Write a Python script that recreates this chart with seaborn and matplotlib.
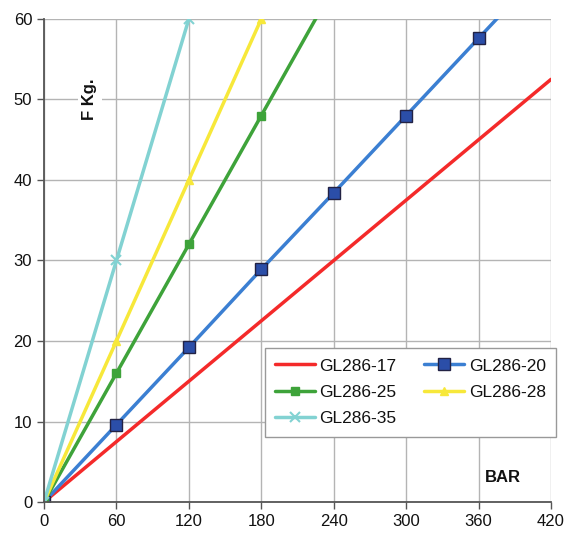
import pandas as pd
import matplotlib.pyplot as plt
import seaborn as sns

# pressure (BAR) values and force (Kg) per model
bar_17 = [0, 60, 120, 180, 240, 300, 360, 420]
kg_17 = [0, 7.5, 15, 22.5, 30, 37.5, 45, 52.5]

bar_20 = [0, 60, 120, 180, 240, 300, 360, 420]
kg_20 = [0, 9.6, 19.2, 28.9, 38.4, 48.0, 57.6, 67.2]

bar_25 = [0, 60, 120, 180, 240]
kg_25 = [0, 16, 32, 48, 64]

bar_28 = [0, 60, 120, 180]
kg_28 = [0, 20, 40, 60]

bar_35 = [0, 60, 120]
kg_35 = [0, 30, 60]

x_ticks = [0, 60, 120, 180, 240, 300, 360, 420]
y_ticks = [0, 10, 20, 30, 40, 50, 60]

series = [
    ('GL286-17', bar_17, kg_17, '#f42a2a', None, 0, '#f42a2a'),
    ('GL286-20', bar_20, kg_20, '#3b7fd2', 's', 8, '#2b4ea8'),
    ('GL286-25', bar_25, kg_25, '#3ea33a', 's', 6, '#3ea33a'),
    ('GL286-28', bar_28, kg_28, '#f7e83a', '^', 6, '#f7e83a'),
    ('GL286-35', bar_35, kg_35, '#82d2d2', 'x', 7, '#82d2d2'),
]

sns.set_style('white')
plt.rcParams['font.family'] = ['Liberation Sans', 'DejaVu Sans']

fig = plt.figure(figsize=(5.67, 5.36), dpi=100)
ax = fig.add_axes([0.0776, 0.0634, 0.8942, 0.9012])

for name, xs, ys, col, mk, ms, fc in series:
    df = pd.DataFrame({'bar': xs, 'kg': ys})
    sns.lineplot(data=df, x='bar', y='kg', ax=ax, color=col, linewidth=2.5,
                 marker=mk, markersize=ms, markerfacecolor=fc,
                 markeredgecolor='#222244' if mk == 's' and ms > 6 else col,
                 markeredgewidth=1 if mk != 'x' else 1.5, label=name)

ax.set_xlim(0, 420)
ax.set_ylim(0, 60)
ax.set_xticks(x_ticks)
ax.set_yticks(y_ticks)
ax.grid(True, color='#b4b4b4', linewidth=1)
ax.set_axisbelow(True)
for s in ['top', 'right']:
    ax.spines[s].set_visible(False)
for s in ['left', 'bottom']:
    ax.spines[s].set_color('#555555')
    ax.spines[s].set_linewidth(1.3)
ax.tick_params(axis='both', direction='out', length=5, width=1, color='#555555',
               labelsize=12, labelcolor='#111111', left=True, bottom=True)
ax.set_xlabel('')
ax.set_ylabel('')

ax.text(38, 50, 'F Kg.', rotation=90, fontsize=12, fontweight='bold', color='#111111',
        ha='center', va='center', bbox=dict(facecolor='white', edgecolor='none', pad=3))
ax.text(380, 3.0, 'BAR', fontsize=12, fontweight='bold', color='#111111',
        ha='center', va='center')

# legend filled row by row like the original
handles, labels = ax.get_legend_handles_labels()
order = [0, 2, 4, 1, 3]
leg = ax.legend([handles[i] for i in order], [labels[i] for i in order],
                ncol=2, loc='lower right', bbox_to_anchor=(1.01, 0.135), borderaxespad=0,
                fontsize=12.5, frameon=True, fancybox=False, edgecolor='#999999', framealpha=1,
                handlelength=2.3, handletextpad=0.25, columnspacing=1.6,
                borderpad=0.6, labelspacing=0.65)
leg.get_frame().set_linewidth(1)
for t in leg.get_texts():
    t.set_color('#111111')

plt.savefig('out.png', dpi=100)
